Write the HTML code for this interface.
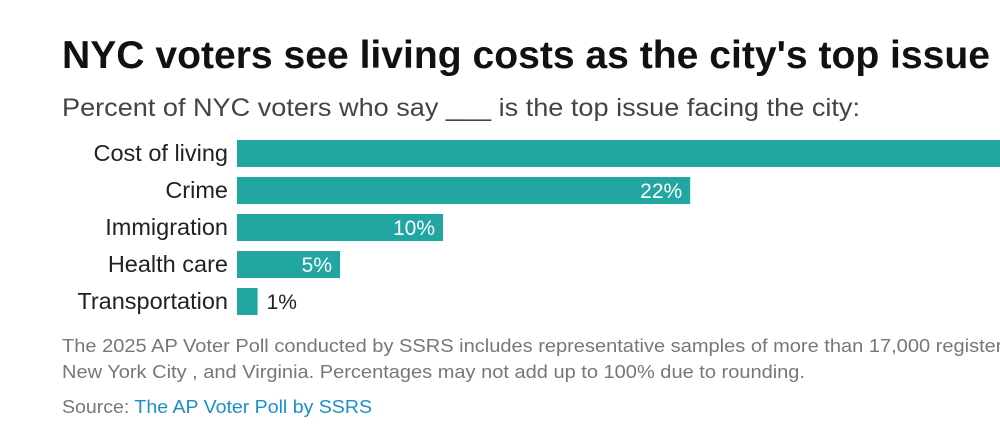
<!DOCTYPE html>
<html><head><meta charset="utf-8"><style>
body{margin:0;background:#fff;width:1000px;height:438px;overflow:hidden;font-family:"Liberation Sans",sans-serif}
</style></head><body>
<svg width="1000" height="438" font-family="Liberation Sans, sans-serif">
<text x="62" y="68" font-size="39" font-weight="bold" fill="#111" textLength="928" lengthAdjust="spacingAndGlyphs">NYC voters see living costs as the city's top issue</text>
<text x="62" y="116" font-size="25" fill="#444" textLength="798" lengthAdjust="spacingAndGlyphs">Percent of NYC voters who say ___ is the top issue facing the city:</text>
<g id="bars"></g>
<text x="62" y="352" font-size="18" fill="#777" textLength="1044" lengthAdjust="spacingAndGlyphs">The 2025 AP Voter Poll conducted by SSRS includes representative samples of more than 17,000 registered voters in</text>
<text x="62" y="378" font-size="18" fill="#777" textLength="743" lengthAdjust="spacingAndGlyphs">New York City , and Virginia. Percentages may not add up to 100% due to rounding.</text>
<text x="62" y="413" font-size="18" fill="#777" textLength="310" lengthAdjust="spacingAndGlyphs">Source: <tspan fill="#1a8fc9">The AP Voter Poll by SSRS</tspan></text>
</svg>
<script>
const categories=["Cost of living","Crime","Immigration","Health care","Transportation"];
const values=[47,22,10,5,1];
const valueLabels=["47%","22%","10%","5%","1%"];
const NS="http://www.w3.org/2000/svg";
const g=document.getElementById('bars');
const x0=237,pxPer=20.6,y0=140,pitch=37,bh=27;
const xs=v=>x0+v*pxPer;
const ys=i=>y0+i*pitch;
categories.forEach((c,i)=>{
  const r=document.createElementNS(NS,'rect');
  r.setAttribute('x',x0);r.setAttribute('y',ys(i));
  r.setAttribute('width',xs(values[i])-x0);r.setAttribute('height',bh);
  r.setAttribute('fill','#22a6a2');
  
  
  g.appendChild(r);
  const t=document.createElementNS(NS,'text');
  t.setAttribute('x',228);t.setAttribute('y',ys(i)+21);
  t.setAttribute('text-anchor','end');t.setAttribute('font-size','23.5');t.setAttribute('fill','#222');
  t.textContent=c;
  
  
  g.appendChild(t);
  const v=document.createElementNS(NS,'text');
  const inside=values[i]>=3;
  v.setAttribute('x',inside?xs(values[i])-8:xs(values[i])+9);
  v.setAttribute('y',ys(i)+21);
  v.setAttribute('text-anchor',inside?'end':'start');
  v.setAttribute('font-size','21');
  v.setAttribute('fill',inside?'#fff':'#222');
  v.textContent=valueLabels[i];
  
  
  g.appendChild(v);
});
</script>
</body></html>
